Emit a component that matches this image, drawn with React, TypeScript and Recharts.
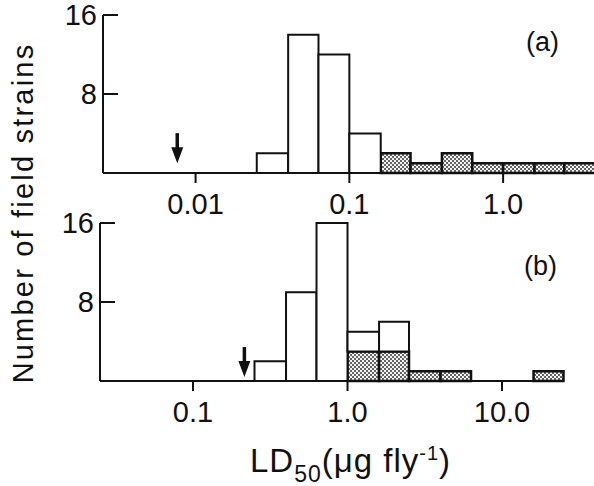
import { ComposedChart, ReferenceArea, Scatter, XAxis, YAxis } from 'recharts';

// panel (a)
const TICKS_A = [0.01, 0.1, 1];
const TICK_LABELS_A = ['0.01', '0.1', '1.0'];
const EDGES_A = [0.025, 0.04, 0.063, 0.1, 0.16, 0.25, 0.4, 0.63, 1.0, 1.6, 2.5, 4.0];
const OPEN_A = [2, 14, 12, 4, 0, 0, 0, 0, 0, 0, 0];
const STIPPLED_A = [0, 0, 0, 0, 2, 1, 2, 1, 1, 1, 1];
const ARROW_A = [{ x: 0.0076, y: 1 }];

// panel (b)
const TICKS_B = [0.1, 1, 10];
const TICK_LABELS_B = ['0.1', '1.0', '10.0'];
const EDGES_B = [0.25, 0.4, 0.63, 1.0, 1.6, 2.5, 4.0, 6.3, 10, 16, 25];
const OPEN_B = [2, 9, 16, 2, 3, 0, 0, 0, 0, 0];
const STIPPLED_B = [0, 0, 0, 3, 3, 1, 1, 0, 0, 1];
const ARROW_B = [{ x: 0.215, y: 0.4 }];

const Y_TICKS = [8, 16];
const FONT = '"Liberation Sans", Arial, Helvetica, sans-serif';
const INK = '#111';

const Arrow = (props: any) => {
  const { cx, cy } = props;
  if (cx == null || cy == null) return null;
  return (
    <g>
      <line x1={cx} y1={cy - 30} x2={cx} y2={cy - 12} stroke={INK} strokeWidth={3.5} />
      <polygon points={`${cx - 6},${cy - 16} ${cx + 6},${cy - 16} ${cx},${cy}`} fill={INK} />
    </g>
  );
};

interface PanelProps {
  top: number;
  axisWidth: number;
  rightPad: number;
  domain: [number, number];
  ticks: number[];
  labels: string[];
  edges: number[];
  open: number[];
  stippled: number[];
  arrow: Array<{ x: number; y: number }>;
}

function Panel({ top, axisWidth, rightPad, domain, ticks, labels, edges, open, stippled, arrow }: PanelProps) {
  const bins = edges.slice(0, -1).map((lo, i) => ({
    lo,
    hi: edges[i + 1],
    s: stippled[i],
    o: open[i],
  }));

  return (
    <div style={{ position: 'absolute', left: 0, top }}>
      <ComposedChart width={594} height={230} margin={{ top: 15, right: rightPad, bottom: 0, left: 0 }}>
        <XAxis
          type="number"
          dataKey="x"
          scale="log"
          domain={domain}
          allowDataOverflow
          ticks={ticks}
          interval={0}
          tickFormatter={(v: number) => labels[ticks.indexOf(v)]}
          height={57}
          tickSize={10}
          tickMargin={10}
          axisLine={{ stroke: INK, strokeWidth: 2 }}
          tickLine={{ stroke: INK, strokeWidth: 2 }}
          tick={{ fill: INK, fontSize: 29, fontFamily: FONT }}
        />
        <YAxis
          type="number"
          dataKey="y"
          domain={[0, 16]}
          ticks={Y_TICKS}
          interval={0}
          width={axisWidth}
          tickSize={-15}
          tickMargin={21}
          axisLine={{ stroke: INK, strokeWidth: 2 }}
          tickLine={{ stroke: INK, strokeWidth: 2 }}
          tick={{ fill: INK, fontSize: 29, fontFamily: FONT }}
        />
        {bins.map((b, i) =>
          b.s > 0 ? (
            <ReferenceArea
              key={`s-${i}`}
              x1={b.lo}
              x2={b.hi}
              y1={0}
              y2={b.s}
              fill="url(#stipple)"
              fillOpacity={1}
              stroke={INK}
              strokeWidth={2.5}
              ifOverflow="visible"
            />
          ) : null
        )}
        {bins.map((b, i) =>
          b.o > 0 ? (
            <ReferenceArea
              key={`o-${i}`}
              x1={b.lo}
              x2={b.hi}
              y1={b.s}
              y2={b.s + b.o}
              fill="#fff"
              fillOpacity={1}
              stroke={INK}
              strokeWidth={2}
              ifOverflow="visible"
            />
          ) : null
        )}
        <Scatter data={arrow} shape={Arrow} isAnimationActive={false} />
      </ComposedChart>
    </div>
  );
}

export default function App() {
  return (
    <div style={{ position: 'absolute', left: 0, top: 0, width: 594, height: 486, background: '#fff', overflow: 'hidden' }}>
      <svg width={0} height={0} style={{ position: 'absolute' }}>
        <defs>
          <pattern id="stipple" patternUnits="userSpaceOnUse" width={4} height={4}>
            <rect width={4} height={4} fill="#f4f4f4" />
            <circle cx={1} cy={1} r={1} fill="#333" />
            <circle cx={3} cy={3} r={1} fill="#333" />
          </pattern>
        </defs>
      </svg>
      <Panel
        top={0}
        axisWidth={103}
        rightPad={0}
        domain={[0.0025, 3.9]}
        ticks={TICKS_A}
        labels={TICK_LABELS_A}
        edges={EDGES_A}
        open={OPEN_A}
        stippled={STIPPLED_A}
        arrow={ARROW_A}
      />
      <Panel
        top={208}
        axisWidth={100}
        rightPad={30.5}
        domain={[0.025, 25]}
        ticks={TICKS_B}
        labels={TICK_LABELS_B}
        edges={EDGES_B}
        open={OPEN_B}
        stippled={STIPPLED_B}
        arrow={ARROW_B}
      />
      <svg width={594} height={486} style={{ position: 'absolute', left: 0, top: 0, pointerEvents: 'none' }}>
        <g fontFamily={FONT} fill={INK}>
          <text x={33} y={213} fontSize={29} letterSpacing={2.2} textAnchor="middle" transform="rotate(-90 33 213)">
            Number of field strains
          </text>
          <text x={526} y={51} fontSize={27}>(a)</text>
          <text x={524} y={275} fontSize={27}>(b)</text>
          <text x={250} y={472} fontSize={33} letterSpacing={1}>
            LD
            <tspan fontSize={23} dy={10}>50</tspan>
            <tspan dy={-10}>(μg fly</tspan>
            <tspan fontSize={20} dy={-12}>-1</tspan>
            <tspan dy={12}>)</tspan>
          </text>
        </g>
      </svg>
    </div>
  );
}
